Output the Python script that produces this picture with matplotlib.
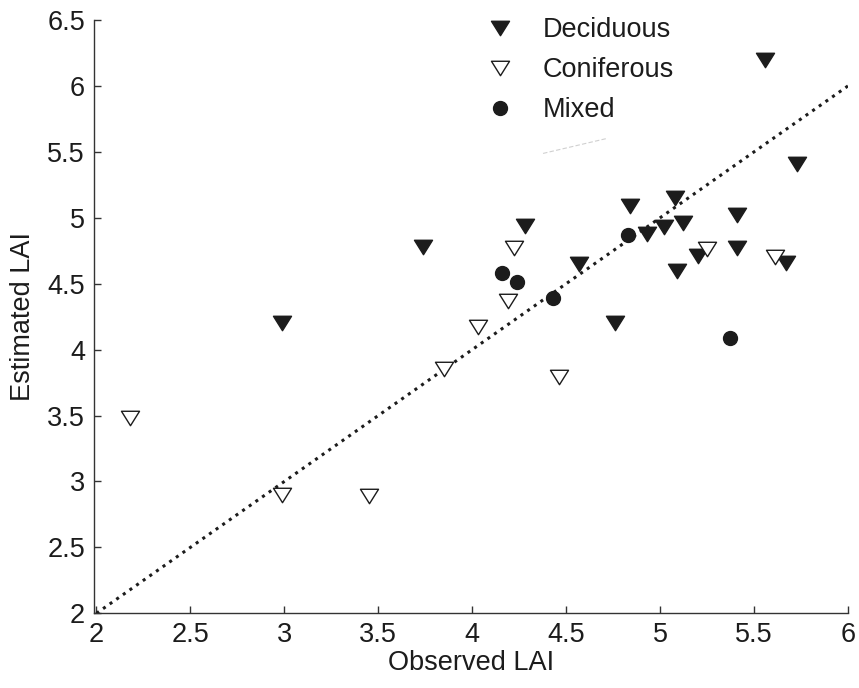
import numpy as np
import matplotlib
matplotlib.use('Agg')
import matplotlib.pyplot as plt
from matplotlib.path import Path

plt.rcParams['font.family'] = ['Liberation Sans', 'DejaVu Sans']

# Observed vs estimated LAI per forest type
decid_obs = [2.99, 3.74, 4.28, 4.57, 4.76, 4.84, 4.93, 5.02, 5.08, 5.09, 5.12, 5.20, 5.41, 5.41, 5.56, 5.67, 5.73]
decid_est = [4.20, 4.78, 4.94, 4.65, 4.20, 5.09, 4.88, 4.93, 5.15, 4.60, 4.96, 4.71, 5.02, 4.77, 6.20, 4.66, 5.41]

conif_obs = [2.18, 2.99, 3.45, 3.85, 4.03, 4.19, 4.22, 4.46, 5.25, 5.61]
conif_est = [3.48, 2.90, 2.89, 3.85, 4.17, 4.37, 4.77, 3.79, 4.76, 4.70]

mixed_obs = [4.16, 4.24, 4.43, 4.83, 5.37]
mixed_est = [4.58, 4.51, 4.39, 4.87, 4.09]

one_to_one = [2, 6]

# faint stray stroke left over in the original figure
stray_x = [4.377, 4.718]
stray_y = [5.488, 5.602]

xticks = [2, 2.5, 3, 3.5, 4, 4.5, 5, 5.5, 6]
yticks = [2, 2.5, 3, 3.5, 4, 4.5, 5, 5.5, 6, 6.5]

ink = '#1c1c1c'
fs = 19.5

# wide, flat downward triangle like the MATLAB 'v' marker
tri = Path([(-1, 0.8), (1, 0.8), (0, -0.8), (-1, 0.8)],
           [Path.MOVETO, Path.LINETO, Path.LINETO, Path.CLOSEPOLY])

fig = plt.figure(figsize=(8.59, 6.88), dpi=100)
ax = fig.add_axes([94 / 859, 1 - 613.3 / 688, (848 - 94) / 859, (613.3 - 20) / 688])

ax.plot(stray_x, stray_y, color='#d0d0d0', lw=0.8, ls=(0, (4, 2)), zorder=1)
ax.plot(one_to_one, one_to_one, color=ink, ls=':', lw=2.2, zorder=2)

ax.plot(decid_obs, decid_est, ls='none', marker=tri, ms=13, mfc=ink, mec=ink,
        mew=1, label='Deciduous', zorder=3)
ax.plot(conif_obs, conif_est, ls='none', marker=tri, ms=13, mfc='white', mec=ink,
        mew=1, label='Coniferous', zorder=4)
ax.plot(mixed_obs, mixed_est, ls='none', marker='o', ms=10, mfc=ink, mec=ink,
        mew=1, label='Mixed', zorder=5)

ax.set_xlim(1.987, 6)
ax.set_ylim(2, 6.5)
ax.set_xticks(xticks)
ax.set_yticks(yticks)
ax.set_xticklabels(['2', '2.5', '3', '3.5', '4', '4.5', '5', '5.5', '6'])
ax.set_yticklabels(['2', '2.5', '3', '3.5', '4', '4.5', '5', '5.5', '6', '6.5'])

for side in ['top', 'right']:
    ax.spines[side].set_visible(False)
for side in ['left', 'bottom']:
    ax.spines[side].set_color('#333333')
    ax.spines[side].set_linewidth(1.0)

ax.tick_params(axis='both', direction='in', length=5, width=1, color='#333333',
               labelsize=fs, labelcolor=ink)
ax.tick_params(axis='x', pad=6)
ax.tick_params(axis='y', pad=6.5)

ax.set_xlabel('Observed LAI', fontsize=fs, color=ink, labelpad=2)
ax.set_ylabel('Estimated LAI', fontsize=fs, color=ink, labelpad=8)

leg = ax.legend(loc='upper left', bbox_to_anchor=(486.5 / 859, 1 - 17 / 688),
                bbox_transform=fig.transFigure, frameon=False, fontsize=fs,
                handlelength=1.0, handletextpad=1.09, labelspacing=0.52,
                borderpad=0, borderaxespad=0, numpoints=1)
for t in leg.get_texts():
    t.set_color(ink)

fig.savefig('out.png', dpi=100)
